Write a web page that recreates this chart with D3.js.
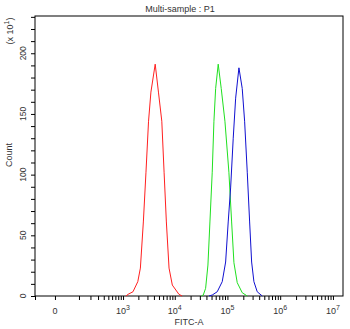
<!DOCTYPE html>
<html>
<head>
<meta charset="utf-8">
<script src="https://cdn.jsdelivr.net/npm/d3@7"></script>
<style>
  body { margin: 0; background: #fff; }
  svg text { font-family: "Liberation Sans", Arial, sans-serif; fill: #333; }
</style>
</head>
<body>
<div id="chart"></div>
<script>
// histogram outlines: [FITC-A value, count (x10)]
const redSeries = [
  [1140, 0], [1260, 1.4], [1570, 3.5], [1950, 11.8], [2190, 23], [2500, 61],
  [2810, 102], [3150, 144], [3500, 168], [4230, 191], [4880, 168], [5660, 144],
  [6260, 102], [6920, 61], [7780, 23], [8990, 9], [12000, 1.4], [13800, 0]
];
const greenSeries = [
  [32000, 0], [34800, 0.8], [38600, 6.3], [42700, 25.5], [46600, 61], [51500, 102],
  [55500, 144], [59800, 171], [66900, 191], [76300, 171], [89700, 144],
  [106700, 102], [120200, 61], [132900, 27.4], [153400, 11], [190900, 2.7], [237700, 0]
];
const blueSeries = [
  [44600, 0], [51500, 0.8], [64100, 3.5], [79700, 11.8], [92500, 28], [103500, 61],
  [115000, 89], [128900, 130], [143200, 163], [165300, 188], [190900, 171],
  [211900, 144], [237700, 102], [263700, 61], [287700, 28], [317900, 11.8],
  [367300, 3.5], [457100, 0]
];
const seriesColors = ["#ff2020", "#20e020", "#1010d0"];

const xMajorTicks = [0, 1e3, 1e4, 1e5, 1e6, 1e7];
const xMajorExp = ["", "3", "4", "5", "6", "7"];
const yLabelTicks = [0, 50, 100, 150, 200];

const width = 350, height = 329;
const chart = {left: 35, right: 343, top: 16, bottom: 296};

const svg = d3.select('#chart')
  .append('svg')
    .attr('width', width)
    .attr('height', height);

const xScale = d3.scaleSymlog()
  .constant(54)
  .domain([-75, 1.55e7])
  .range([chart.left, chart.right]);

const yScale = d3.scaleLinear()
  .domain([0, 230.7])
  .range([chart.bottom, chart.top]);

// minor ticks: 100..900, then 2..9 x each decade
let xMinor = [-75].concat(d3.range(100, 1000, 100));
for (let e = 3; e < 7; e++) {
  for (let m = 2; m < 10; m++) xMinor.push(m * Math.pow(10, e));
}

const xAxis = d3.axisBottom(xScale)
  .tickValues(xMinor.concat(xMajorTicks))
  .tickSize(4)
  .tickFormat('');

svg.append('g')
  .attr('transform', `translate(0,${chart.bottom})`)
  .call(xAxis)
  .call(g => g.select('.domain').remove());

const yAxis = d3.axisLeft(yScale)
  .tickValues(d3.range(0, 231, 10))
  .tickSize(4)
  .tickFormat('');

svg.append('g')
  .attr('transform', `translate(${chart.left},0)`)
  .call(yAxis)
  .call(g => g.select('.domain').remove());

// x tick labels with exponents
const xl = svg.append('g').selectAll('text')
  .data(xMajorTicks)
  .join('text')
    .attr('x', d => xScale(d))
    .attr('y', 314)
    .attr('text-anchor', 'middle')
    .style('font-size', '9px');
xl.append('tspan').text(d => d === 0 ? '0' : '10');
xl.append('tspan')
  .attr('dy', -4)
  .style('font-size', '7px')
  .text((d, i) => xMajorExp[i]);

// y tick labels, rotated
svg.append('g').selectAll('text')
  .data(yLabelTicks)
  .join('text')
    .attr('transform', d => `translate(26,${yScale(d)}) rotate(-90)`)
    .attr('text-anchor', 'middle')
    .style('font-size', '8.5px')
    .text(d => d);

// frame
svg.append('rect')
  .attr('x', chart.left)
  .attr('y', chart.top)
  .attr('width', chart.right - chart.left)
  .attr('height', chart.bottom - chart.top)
  .attr('fill', 'none')
  .attr('stroke', '#000');

const line = d3.line()
  .x(d => xScale(d[0]))
  .y(d => yScale(d[1]));

svg.selectAll('path.hist')
  .data([redSeries, greenSeries, blueSeries])
  .join('path')
    .attr('class', 'hist')
    .attr('d', line)
    .attr('fill', 'none')
    .attr('stroke', (d, i) => seriesColors[i])
    .attr('stroke-width', 1);

// titles
svg.append('text')
  .attr('x', 180).attr('y', 12)
  .attr('text-anchor', 'middle')
  .style('font-size', '9px')
  .text('Multi-sample : P1');

svg.append('text')
  .attr('x', (chart.left + chart.right) / 2).attr('y', 325)
  .attr('text-anchor', 'middle')
  .style('font-size', '9px')
  .text('FITC-A');

svg.append('text')
  .attr('transform', `translate(12,155) rotate(-90)`)
  .attr('text-anchor', 'middle')
  .style('font-size', '9px')
  .text('Count');

const mult = svg.append('text')
  .attr('transform', `translate(13,31) rotate(-90)`)
  .attr('text-anchor', 'middle')
  .style('font-size', '9px');
mult.append('tspan').text('(x 10');
mult.append('tspan').attr('dy', -4).style('font-size', '7px').text('1');
mult.append('tspan').attr('dy', 4).text(')');
</script>
</body>
</html>
